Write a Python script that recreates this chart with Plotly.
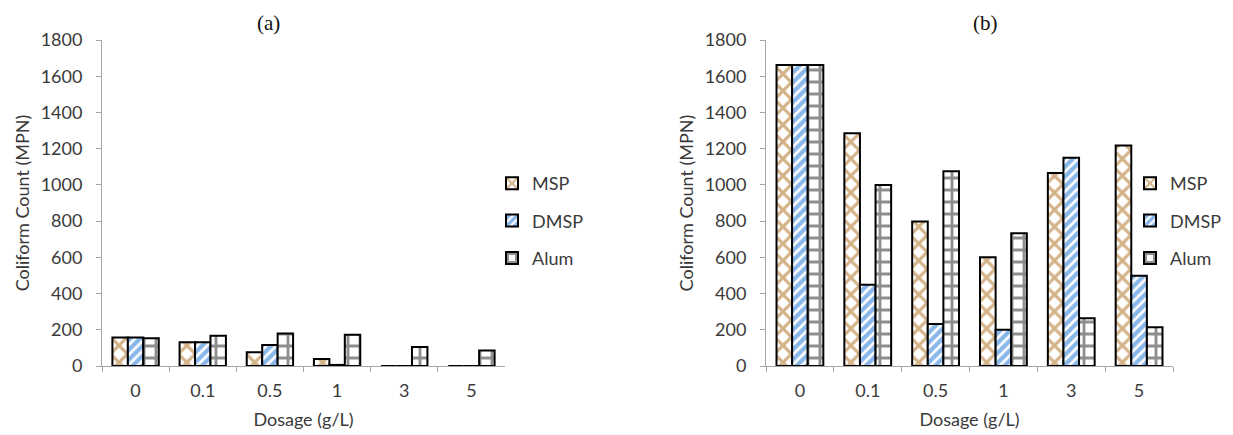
import plotly.graph_objects as go

dosage = ["0", "0.1", "0.5", "1", "3", "5"]
series_names = ["MSP", "DMSP", "Alum"]

a_msp = [158, 131, 76, 39, 0, 0]
a_dmsp = [158, 131, 116, 6, 0, 0]
a_alum = [153, 167, 180, 172, 105, 85]

b_msp = [1662, 1285, 798, 600, 1065, 1217]
b_dmsp = [1662, 448, 232, 200, 1150, 498]
b_alum = [1662, 1000, 1075, 733, 263, 214]

y_ticks = [0, 200, 400, 600, 800, 1000, 1200, 1400, 1600, 1800]
panel_titles = ["(a)", "(b)"]
x_title = "Dosage (g/L)"
y_title = "Coliform Count (MPN)"

OFF = 8  # page body margin
W, H = 1233 - OFF, 435 - OFF
styles = {
    "MSP": dict(shape="x", fgcolor="#A8660F", size=12, solidity=0.45),
    "DMSP": dict(shape="/", fgcolor="#1670D6", size=7, solidity=0.62),
    "Alum": dict(shape="+", fgcolor="#1e1e1e", size=12, solidity=0.42),
}

fig = go.Figure()
panels = [
    ("x", "y", "legend", [a_msp, a_dmsp, a_alum]),
    ("x2", "y2", "legend2", [b_msp, b_dmsp, b_alum]),
]
for xa, ya, lg, vals in panels:
    for name, v in zip(series_names, vals):
        fig.add_trace(go.Bar(
            x=dosage, y=v, name=name, xaxis=xa, yaxis=ya, legend=lg,
            legendgroup=lg + name,
            marker=dict(color="white", line=dict(color="black", width=2),
                        pattern=dict(fillmode="overlay", **styles[name])),
        ))

def px_x(p):
    return (p - OFF) / W

def px_y(p):
    return 1 - (p - OFF) / H

font = dict(family="Lato, Carlito, Open Sans, sans-serif", size=18, color="#3a3a3a")
axis_common = dict(showline=True, linecolor="#A6A6A6", linewidth=1, ticks="outside",
                   ticklen=5, tickcolor="#A6A6A6", showgrid=False, zeroline=False,
                   tickfont=font)
xaxis_extra = dict(type="category", tickson="boundaries", ticklabelstandoff=8,
                   title=dict(text=x_title, font=font, standoff=13))
yaxis_extra = dict(range=[0, 1800], tickvals=y_ticks, ticklabelstandoff=10,
                   title=dict(text=y_title, font=font, standoff=6))
ydom = [px_y(366), px_y(40)]
legend_common = dict(xanchor="left", yanchor="top", font=font, traceorder="grouped",
                     tracegroupgap=11, itemwidth=30, bgcolor="rgba(0,0,0,0)")
title_font = dict(family="Liberation Serif, Times New Roman, serif", size=21, color="#111111")

fig.update_layout(
    width=W, height=H, margin=dict(l=0, r=0, t=0, b=0, autoexpand=False),
    paper_bgcolor="white", plot_bgcolor="white",
    barmode="group", bargap=0.31, bargroupgap=0,
    xaxis=dict(domain=[px_x(102), px_x(505)], anchor="y", **axis_common, **xaxis_extra),
    yaxis=dict(domain=ydom, anchor="x", **axis_common, **yaxis_extra),
    xaxis2=dict(domain=[px_x(766), px_x(1173)], anchor="y2", **axis_common, **xaxis_extra),
    yaxis2=dict(domain=ydom, anchor="x2", **axis_common, **yaxis_extra),
    legend=dict(x=px_x(492), y=px_y(165), **legend_common),
    legend2=dict(x=px_x(1130), y=px_y(165), **legend_common),
    annotations=[
        dict(text=panel_titles[0], x=px_x(268), y=px_y(23), xref="paper", yref="paper",
             xanchor="center", yanchor="middle", showarrow=False, font=title_font),
        dict(text=panel_titles[1], x=px_x(985), y=px_y(23), xref="paper", yref="paper",
             xanchor="center", yanchor="middle", showarrow=False, font=title_font),
    ],
    showlegend=True,
)

fig.write_html("out.html")
